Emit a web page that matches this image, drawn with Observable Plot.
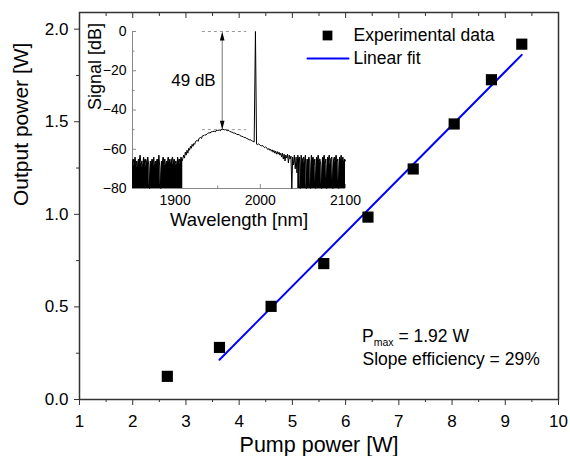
<!DOCTYPE html>
<html><head><meta charset="utf-8">
<script src="https://cdn.jsdelivr.net/npm/d3@7"></script>
<script src="https://cdn.jsdelivr.net/npm/@observablehq/plot@0.6"></script>
<style>
body{margin:0;background:#fff;}
#wrap{position:relative;width:570px;height:456px;font-family:"Liberation Sans",Arial,sans-serif;}
#wrap svg{position:absolute;}
</style></head><body><div id="wrap"></div>
<script>
// Main chart data
const pumpPower   = [2.65, 3.63, 4.60, 5.59, 6.42, 7.27, 8.04, 8.74, 9.31];
const outputPower = [0.125, 0.281, 0.503, 0.734, 0.985, 1.245, 1.488, 1.727, 1.919];
const fitPump   = [3.63, 9.31];
const fitOutput = [0.215, 1.861];
const xTicks = [1, 2, 3, 4, 5, 6, 7, 8, 9, 10];
const xMinor = [1.5, 2.5, 3.5, 4.5, 5.5, 6.5, 7.5, 8.5, 9.5];
const yTicks = [0, 0.5, 1.0, 1.5, 2.0];
const yMinor = [0.25, 0.75, 1.25, 1.75];
const legendLabels = ["Experimental data", "Linear fit"];
const noteLines = ["1.92 W", "Slope efficiency = 29%"];

// Inset data: spectrum [wavelength nm, signal dB]
const noiseLeft = [
[1850,-67],[1851,-65],[1852,-69],[1853,-64],[1854,-68],[1855,-66],[1856,-70],[1857,-65],[1858,-67],[1859,-63],
[1860,-68],[1861,-66],[1862,-71],[1863,-64],[1864,-67],[1865,-65],[1866,-69],[1867,-66],[1868,-64],[1869,-68],
[1870,-80],[1871,-66],[1872,-69],[1873,-65],[1874,-67],[1875,-64],[1876,-70],[1877,-66],[1878,-68],[1879,-65],
[1880,-67],[1881,-63],[1882,-69],[1883,-80],[1884,-66],[1885,-68],[1886,-64],[1887,-67],[1888,-65],[1889,-70],
[1890,-66],[1891,-68],[1892,-64],[1893,-67],[1894,-65],[1895,-69],[1896,-66],[1897,-64],[1898,-68],[1899,-65],
[1900,-67],[1901,-66],[1902,-70],[1903,-64],[1904,-67],[1905,-65],[1906,-68],[1907,-64],[1908,-66],[1909,-65]
];
const hump = [
[1910,-63],[1911,-64.5],[1912,-61.5],[1913,-63],[1914,-60.5],[1915,-62],[1916,-59.5],[1917,-60.5],[1918,-58.5],[1919,-59.5],
[1920,-57.5],[1921,-58.5],[1922,-57],[1923,-57.5],[1924,-56],[1926,-55.5],[1927,-56],[1928,-54.5],[1930,-54],[1931,-54.5],
[1932,-53.2],[1934,-53],[1935,-52.5],[1936,-52.8],[1938,-52],[1940,-51.5],[1941,-51.8],[1942,-51.2],[1944,-51],[1946,-50.8],
[1947,-51.2],[1948,-50.5],[1950,-50.4],[1952,-50.2],[1953,-50.6],[1954,-50],[1956,-49.8],[1958,-50.1],[1959,-49.9],[1960,-50.3],
[1962,-50.6],[1963,-50.4],[1964,-50.9],[1966,-51.2],[1968,-51.5],[1969,-51.9],[1970,-51.7],[1972,-52.3],[1974,-52.6],[1975,-52.4],
[1976,-53],[1978,-53.4],[1980,-53.6],[1981,-54.1],[1982,-53.9],[1984,-54.5],[1986,-54.8],[1987,-55.3],[1988,-55.1],[1990,-55.6],
[1991,-55.9],[1992.8,-56.3],[1994.3,0],[1995.6,-57.4],[1997,-57.6],[1998,-57.3],[2000,-58],[2001,-58.4],[2002,-58],[2004,-58.6],
[2005,-59.2],[2006,-58.8],[2008,-59.5],[2009,-60.2],[2010,-59.6],[2011,-60.5],[2012,-60],[2013,-61],[2014,-60.3],[2015,-61.5],
[2016,-60.6],[2017,-62],[2018,-61],[2019,-62.5],[2020,-61.2],[2021,-62.5],[2022,-61.5],[2023,-63],[2024,-62],[2025,-64],
[2026,-62],[2027,-65],[2028,-62.5],[2029,-66],[2030,-63],[2031,-64.5],[2032,-62.5],[2033,-67],[2034,-63],[2035,-65],
[2036,-63.5],[2037,-80],[2038,-64],[2039,-68],[2040,-63],[2041,-70],[2042,-64],[2043,-72]
];
const noiseRight = [
[2044,-63],[2045,-66],[2046,-64],[2047,-80],[2048,-63],[2049,-67],[2050,-65],[2051,-64],[2052,-68],[2053,-63],
[2054,-80],[2055,-65],[2056,-67],[2057,-64],[2058,-66],[2059,-80],[2060,-63],[2061,-66],[2062,-64],[2063,-68],
[2064,-65],[2065,-80],[2066,-64],[2067,-67],[2068,-63],[2069,-66],[2070,-65],[2071,-68],[2072,-80],[2073,-64],
[2074,-66],[2075,-63],[2076,-67],[2077,-65],[2078,-80],[2079,-64],[2080,-66],[2081,-63],[2082,-68],[2083,-65],
[2084,-64],[2085,-80],[2086,-66],[2087,-64],[2088,-67],[2089,-63],[2090,-66],[2091,-65],[2092,-80],[2093,-64],
[2094,-67],[2095,-63],[2096,-66],[2097,-64],[2098,-68],[2099,-65],[2100,-66]
];
const insetXTicks = [1900, 2000, 2100];
const insetXMinor = [1850, 1950, 2050];
const insetYTicks = [0, -20, -40, -60, -80];
const insetYMinor = [-10, -30, -50, -70];
const noiseFloor = -80;
const dashLevels = [0, -50];
const dashRange = [1932, 1984];
const arrowWl = 1955.3;
const gapLabel = {text: "49 dB", wl: 1921.6, db: -25};

const FONT = "Liberation Sans, Arial, sans-serif";
const points = pumpPower.map((x, i) => ({x, y: outputPower[i]}));
const fit = fitPump.map((x, i) => ({x, y: fitOutput[i]}));
const spectrum = noiseLeft.concat(hump, noiseRight);
const segShape = {draw(ctx, l) { ctx.moveTo(0, 0); ctx.lineTo(0, -l); }};
const headShape = {draw(ctx) { ctx.moveTo(0, 0); ctx.lineTo(-2.3, 9); ctx.lineTo(2.3, 9); ctx.closePath(); }};

const main = Plot.plot({
  width: 570, height: 456,
  marginLeft: 79, marginRight: 12, marginTop: 12, marginBottom: 57,
  style: {fontFamily: FONT, background: "transparent", color: "#000", overflow: "visible"},
  x: {domain: [1, 10], label: null},
  y: {domain: [0, 2.09], label: null},
  marks: [
    Plot.axisX(xTicks, {anchor: "bottom", tickSize: 6, tickPadding: 9, fontSize: 17, stroke: "#333", fill: "#000", label: null}),
    Plot.axisX(xMinor, {anchor: "bottom", tickSize: 3, stroke: "#333", fill: "none", label: null}),
    Plot.axisX(xTicks, {anchor: "top", tickSize: -5, stroke: "#333", fill: "none", label: null}),
    Plot.axisX(xMinor, {anchor: "top", tickSize: -3, stroke: "#333", fill: "none", label: null}),
    Plot.axisY(yTicks, {anchor: "left", tickSize: 5, tickPadding: 6, tickFormat: d3.format(".1f"), fontSize: 17, stroke: "#333", fill: "#000", label: null}),
    Plot.axisY(yMinor, {anchor: "left", tickSize: 3, stroke: "#333", fill: "none", label: null}),
    Plot.frame({stroke: "#333", strokeWidth: 1.5}),
    Plot.line(fit, {x: "x", y: "y", stroke: "#0000ff", strokeWidth: 2}),
    Plot.dot(points, {x: "x", y: "y", symbol: "square", r: 6.3, fill: "#000", stroke: "none"}),
    // legend
    Plot.dot([legendLabels[0]], {frameAnchor: "top-left", dx: 248, dy: 23, symbol: "square", r: 5.5, fill: "#000"}),
    Plot.vector([legendLabels[1]], {frameAnchor: "top-left", dx: 228, dy: 46, length: 41, rotate: 90, anchor: "start", shape: segShape, stroke: "#0000ff", strokeWidth: 2}),
    Plot.text([legendLabels[0]], {frameAnchor: "top-left", dx: 274, dy: 23, textAnchor: "start", lineAnchor: "middle", fontSize: 17.5}),
    Plot.text([legendLabels[1]], {frameAnchor: "top-left", dx: 274, dy: 46, textAnchor: "start", lineAnchor: "middle", fontSize: 17.5}),
    // annotation line 2
    Plot.text([noteLines[1]], {frameAnchor: "top-left", dx: 283, dy: 352, textAnchor: "start", lineAnchor: "bottom", fontSize: 17.5}),
    // axis titles
    Plot.text(["Pump power [W]"], {frameAnchor: "bottom", dy: 52, lineAnchor: "bottom", fontSize: 21.5}),
    Plot.text(["Output power [W]"], {frameAnchor: "left", dx: -52, rotate: -90, lineAnchor: "bottom", fontSize: 21})
  ]
});
// P_max with subscript
d3.select(main).append("text")
  .attr("x", 362).attr("y", 342).attr("text-anchor", "start")
  .attr("font-family", FONT).attr("font-size", 17.5).attr("fill", "#000")
  .call(t => {
    t.append("tspan").text("P");
    t.append("tspan").attr("font-size", 10.5).attr("dy", 4).text("max");
    t.append("tspan").attr("dy", -4).text(" = " + noteLines[0]);
  });

const inset = Plot.plot({
  width: 300, height: 235,
  marginLeft: 72, marginRight: 15, marginTop: 31, marginBottom: 47,
  style: {fontFamily: FONT, background: "transparent", color: "#000", overflow: "visible"},
  x: {domain: [1850, 2100], label: null},
  y: {domain: [-80, 0], label: null},
  marks: [
    Plot.ruleX([1850], {stroke: "#888", strokeWidth: 1}),
    Plot.ruleY([noiseFloor], {stroke: "#888", strokeWidth: 1}),
    Plot.axisY(insetYTicks, {anchor: "left", tickSize: 0, tickPadding: 6, fontSize: 14, fill: "#000", label: null}),
    Plot.axisY(insetYTicks, {anchor: "left", tickSize: -4, stroke: "#888", fill: "none", label: null}),
    Plot.axisY(insetYMinor, {anchor: "left", tickSize: -2.5, stroke: "#888", fill: "none", label: null}),
    Plot.axisX(insetXTicks, {anchor: "bottom", tickSize: 0, tickPadding: 7, fontSize: 14, tickFormat: d3.format("d"), fill: "#000", label: null}),
    Plot.axisX(insetXTicks, {anchor: "bottom", tickSize: -4, stroke: "#888", fill: "none", label: null}),
    Plot.axisX(insetXMinor, {anchor: "bottom", tickSize: -2.5, stroke: "#888", fill: "none", label: null}),
    Plot.ruleY(dashLevels, {x1: dashRange[0], x2: dashRange[1], stroke: "#999", strokeDasharray: "3,3", strokeWidth: 1}),
    Plot.areaY(noiseLeft, {x: d => d[0], y1: noiseFloor, y2: d => d[1], fill: "#000"}),
    Plot.areaY(noiseRight, {x: d => d[0], y1: noiseFloor, y2: d => d[1], fill: "#000"}),
    Plot.line(spectrum, {x: d => d[0], y: d => d[1], stroke: "#000", strokeWidth: 1}),
    Plot.ruleX([arrowWl], {y1: dashLevels[0] - 3, y2: dashLevels[1] + 3, stroke: "#777", strokeWidth: 1}),
    Plot.vector([dashLevels[0]], {x: arrowWl, y: d => d, anchor: "start", rotate: 0, shape: headShape, fill: "#000", stroke: "none", length: 9}),
    Plot.vector([dashLevels[1]], {x: arrowWl, y: d => d, anchor: "start", rotate: 180, shape: headShape, fill: "#000", stroke: "none", length: 9}),
    Plot.text([gapLabel], {x: "wl", y: "db", text: "text", fontSize: 17, lineAnchor: "middle"}),
    Plot.text(["Wavelength [nm]"], {frameAnchor: "bottom", dy: 37, lineAnchor: "bottom", fontSize: 18.5}),
    Plot.text(["Signal [dB]"], {frameAnchor: "left", dx: -32, rotate: -90, lineAnchor: "bottom", fontSize: 18})
  ]
});

const wrap = document.getElementById("wrap");
main.style.left = "0px"; main.style.top = "0px";
inset.style.left = "60px"; inset.style.top = "0px";
wrap.appendChild(main);
wrap.appendChild(inset);
</script></body></html>
